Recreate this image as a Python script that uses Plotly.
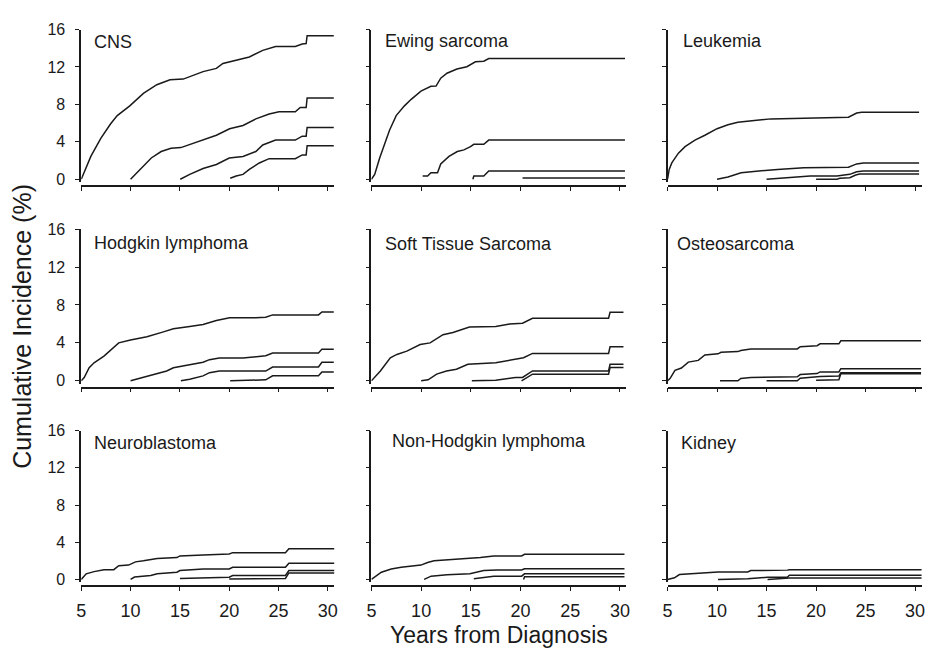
import plotly.graph_objects as go

# ---------------- data ----------------
panel_names = ["CNS", "Ewing sarcoma", "Leukemia",
               "Hodgkin lymphoma", "Soft Tissue Sarcoma", "Osteosarcoma",
               "Neuroblastoma", "Non-Hodgkin lymphoma", "Kidney"]
x_ticks = [5, 10, 15, 20, 25, 30]
y_ticks = [0, 4, 8, 12, 16]

# CNS
cns5_x = [5, 5.97, 6.98, 7.98, 8.65, 9.92, 11.3, 12.66, 14.0, 15.34, 17.35, 18.7, 19.36, 20.7, 22.04, 23.4, 24.7, 26.7, 27.4, 27.8, 27.9, 30.6]
cns5_y = [0, 2.44, 4.36, 5.93, 6.8, 7.84, 9.17, 10.1, 10.63, 10.7, 11.5, 11.85, 12.37, 12.72, 13.07, 13.77, 14.19, 14.19, 14.46, 14.5, 15.34, 15.34]
cns10_x = [10, 11.1, 12.1, 13.1, 14.1, 15.1, 16.77, 18.7, 20.04, 21.4, 22.7, 24.05, 25.05, 26.7, 27.2, 27.8, 27.9, 30.6]
cns10_y = [0, 1.22, 2.27, 2.96, 3.31, 3.38, 4.0, 4.7, 5.4, 5.75, 6.45, 6.97, 7.2, 7.2, 7.67, 7.67, 8.68, 8.68]
cns15_x = [15.04, 16.0, 17.35, 18.7, 20.0, 21.4, 22.7, 23.4, 24.7, 26.7, 27.4, 27.8, 27.9, 30.6]
cns15_y = [0, 0.52, 1.15, 1.57, 2.27, 2.44, 2.96, 3.66, 4.18, 4.18, 4.6, 4.6, 5.54, 5.54]
cns20_x = [20.1, 20.7, 21.4, 22.04, 23.05, 24.05, 26.7, 27.4, 27.8, 27.9, 30.6]
cns20_y = [0.1, 0.35, 0.52, 1.05, 1.74, 2.2, 2.2, 2.6, 2.6, 3.59, 3.59]

# Ewing sarcoma
ew5_x = [5, 5.33, 5.83, 6.3, 6.82, 7.49, 8.32, 9.0, 9.98, 10.98, 11.5, 11.97, 12.6, 13.6, 14.6, 15.46, 16.3, 16.8, 30.5]
ew5_y = [0, 0.52, 2.27, 3.66, 5.23, 6.8, 7.84, 8.54, 9.41, 9.93, 9.96, 10.8, 11.33, 11.78, 12.03, 12.55, 12.62, 12.9, 12.9]
ew10_x = [10.15, 10.65, 10.98, 11.65, 11.97, 12.8, 13.64, 14.3, 14.96, 15.3, 16.3, 16.8, 30.5]
ew10_y = [0.35, 0.35, 0.7, 0.7, 1.64, 2.44, 2.96, 3.14, 3.48, 3.73, 3.73, 4.18, 4.18]
ew15_x = [15.2, 15.3, 16.3, 16.8, 30.5]
ew15_y = [0, 0.35, 0.35, 0.87, 0.87]
ew20_x = [20.2, 30.5]
ew20_y = [0.12, 0.12]

# Leukemia
leu5_x = [5, 5.17, 5.43, 6.1, 6.77, 7.77, 8.77, 10.0, 11.1, 12.1, 13.77, 15.43, 18.77, 22.1, 23.27, 24.1, 24.6, 30.4]
leu5_y = [0, 1.05, 1.74, 2.79, 3.48, 4.18, 4.7, 5.4, 5.82, 6.1, 6.27, 6.45, 6.52, 6.59, 6.62, 7.08, 7.15, 7.15]
leu10_x = [10, 11.1, 12.43, 14.1, 16.1, 18.77, 22.1, 23.27, 24.1, 24.77, 30.4]
leu10_y = [0, 0.24, 0.7, 0.87, 1.05, 1.22, 1.22, 1.29, 1.64, 1.74, 1.74]
leu15_x = [15, 16.1, 17.8, 19.4, 22.1, 23.4, 24.1, 24.77, 30.4]
leu15_y = [0, 0.1, 0.24, 0.35, 0.35, 0.52, 0.8, 0.87, 0.87]
leu20_x = [20, 22.1, 22.4, 23.4, 24.0, 24.4, 30.4]
leu20_y = [0, 0, 0.1, 0.17, 0.45, 0.55, 0.55]

# Hodgkin lymphoma
hod5_x = [5, 5.3, 5.8, 6.3, 7.3, 7.98, 8.8, 9.99, 11.66, 13.33, 14.34, 16.0, 17.35, 18.7, 20.04, 22.7, 23.7, 24.4, 29.05, 29.4, 30.6]
hod5_y = [0, 0.35, 1.38, 1.9, 2.6, 3.27, 4.0, 4.3, 4.64, 5.16, 5.5, 5.74, 5.95, 6.37, 6.64, 6.64, 6.7, 6.95, 6.95, 7.26, 7.26]
hod10_x = [10, 10.65, 12.0, 13.66, 14.34, 16.0, 17.35, 18.0, 19.0, 21.4, 22.7, 23.7, 24.4, 29.05, 29.4, 30.6]
hod10_y = [0, 0.17, 0.52, 1.03, 1.38, 1.72, 1.96, 2.23, 2.4, 2.4, 2.58, 2.65, 2.92, 2.92, 3.34, 3.34]
hod15_x = [15.1, 16.0, 17.35, 18.0, 19.0, 23.7, 24.4, 29.05, 29.4, 30.6]
hod15_y = [0, 0.17, 0.52, 0.86, 1.03, 1.03, 1.45, 1.45, 1.96, 1.96]
hod20_x = [20.1, 23.7, 24.4, 29.05, 29.4, 30.6]
hod20_y = [0, 0.1, 0.52, 0.52, 0.93, 0.93]

# Soft Tissue Sarcoma
sts5_x = [5, 5.9, 6.9, 7.56, 8.56, 9.9, 10.9, 12.2, 13.2, 14.86, 17.5, 18.9, 20.2, 21.2, 28.85, 29.0, 30.35]
sts5_y = [0, 1.04, 2.43, 2.78, 3.13, 3.82, 4.0, 4.86, 5.1, 5.67, 5.73, 6.0, 6.08, 6.6, 6.6, 7.23, 7.23]
sts10_x = [10, 10.7, 11.56, 12.55, 13.55, 14.7, 17.5, 19.5, 20.3, 21.2, 28.85, 29.0, 30.35]
sts10_y = [0, 0.1, 0.7, 1.04, 1.22, 1.74, 1.9, 2.33, 2.43, 2.89, 2.89, 3.58, 3.58]
sts15_x = [15.1, 17.5, 19.5, 20.2, 21.2, 28.85, 29.0, 30.35]
sts15_y = [0, 0.07, 0.35, 0.35, 1.04, 1.04, 1.74, 1.74]
sts20_x = [20.1, 21.2, 28.85, 29.0, 30.35]
sts20_y = [0, 0.7, 0.7, 1.39, 1.39]

# Osteosarcoma
ost5_x = [5, 5.25, 5.75, 6.4, 7.1, 8.1, 8.77, 10.1, 10.4, 12.1, 12.4, 13.4, 18.1, 18.4, 20.1, 20.4, 22.3, 22.5, 30.6]
ost5_y = [0, 0.24, 1.1, 1.35, 1.97, 2.15, 2.73, 2.84, 3.0, 3.08, 3.2, 3.36, 3.36, 3.6, 3.7, 3.9, 3.9, 4.22, 4.22]
ost10_x = [10.3, 12.1, 12.4, 13.4, 18.1, 18.4, 20.1, 20.4, 22.3, 22.5, 30.6]
ost10_y = [0, 0, 0.24, 0.35, 0.42, 0.66, 0.76, 0.94, 0.94, 1.28, 1.28]
ost15_x = [15.0, 18.1, 18.4, 20.4, 22.3, 22.5, 30.6]
ost15_y = [0, 0, 0.28, 0.45, 0.5, 0.85, 0.85]
ost20_x = [20.0, 22.3, 22.5, 30.6]
ost20_y = [0.05, 0.1, 0.75, 0.75]

# Neuroblastoma
neu5_x = [5, 5.5, 6.3, 7.3, 8.3, 8.8, 9.8, 10.5, 11.3, 12.7, 14.7, 15.0, 17.35, 20.0, 20.35, 25.7, 26.05, 30.7]
neu5_y = [0, 0.6, 0.84, 1.05, 1.05, 1.47, 1.54, 1.89, 2.0, 2.25, 2.35, 2.53, 2.63, 2.74, 2.88, 2.88, 3.3, 3.3]
neu10_x = [10, 10.4, 12.05, 12.7, 14.7, 15.0, 17.35, 20.0, 20.35, 25.7, 26.05, 30.7]
neu10_y = [0, 0.25, 0.42, 0.6, 0.77, 0.95, 1.12, 1.12, 1.3, 1.3, 1.75, 1.75]
neu15_x = [15, 20.0, 20.35, 25.7, 26.05, 30.7]
neu15_y = [0.1, 0.24, 0.42, 0.42, 0.95, 0.95]
neu20_x = [20, 25.7, 26.05, 30.7]
neu20_y = [0.05, 0.1, 0.7, 0.7]

# Non-Hodgkin lymphoma
nhl5_x = [5, 5.5, 6.0, 6.99, 7.99, 9.98, 10.65, 11.3, 12.6, 14.6, 15.96, 17.3, 20.1, 20.4, 30.45]
nhl5_y = [0, 0.42, 0.77, 1.12, 1.3, 1.54, 1.82, 2.0, 2.1, 2.18, 2.35, 2.53, 2.53, 2.7, 2.7]
nhl10_x = [10.3, 11.0, 12.6, 14.9, 16.3, 17.6, 20.1, 20.4, 30.45]
nhl10_y = [0, 0.35, 0.49, 0.6, 0.95, 1.02, 1.02, 1.15, 1.15]
nhl15_x = [15.3, 16.0, 17.3, 20.1, 20.4, 30.45]
nhl15_y = [0.07, 0.14, 0.35, 0.35, 0.6, 0.6]
nhl20_x = [20.3, 20.4, 30.45]
nhl20_y = [0, 0.28, 0.28]

# Kidney
kid5_x = [5, 5.7, 6.2, 8.7, 10.1, 13.1, 13.4, 17.1, 17.3, 30.7]
kid5_y = [0, 0.17, 0.52, 0.7, 0.8, 0.8, 0.95, 1.0, 1.05, 1.05]
kid10_x = [10.1, 13.1, 15.1, 17.1, 17.3, 30.7]
kid10_y = [0, 0.07, 0.24, 0.24, 0.46, 0.46]
kid15_x = [15.1, 17.1, 17.3, 30.7]
kid15_y = [0, 0.07, 0.15, 0.15]

panel_curves = [
    [(cns5_x, cns5_y), (cns10_x, cns10_y), (cns15_x, cns15_y), (cns20_x, cns20_y)],
    [(ew5_x, ew5_y), (ew10_x, ew10_y), (ew15_x, ew15_y), (ew20_x, ew20_y)],
    [(leu5_x, leu5_y), (leu10_x, leu10_y), (leu15_x, leu15_y), (leu20_x, leu20_y)],
    [(hod5_x, hod5_y), (hod10_x, hod10_y), (hod15_x, hod15_y), (hod20_x, hod20_y)],
    [(sts5_x, sts5_y), (sts10_x, sts10_y), (sts15_x, sts15_y), (sts20_x, sts20_y)],
    [(ost5_x, ost5_y), (ost10_x, ost10_y), (ost15_x, ost15_y), (ost20_x, ost20_y)],
    [(neu5_x, neu5_y), (neu10_x, neu10_y), (neu15_x, neu15_y), (neu20_x, neu20_y)],
    [(nhl5_x, nhl5_y), (nhl10_x, nhl10_y), (nhl15_x, nhl15_y), (nhl20_x, nhl20_y)],
    [(kid5_x, kid5_y), (kid10_x, kid10_y), (kid15_x, kid15_y)],
]

# ---------------- layout geometry (pixels) ----------------
W, H = 931, 650
FONT = "Arial, 'Liberation Sans', sans-serif"
INK = "#1a1a1a"
col_left = [77, 370, 669]
col_scale = [9.96, 10.04, 10.0]
row_top = [22, 226, 432]
row_zero = [175, 381, 584]
row_axis = [182, 388, 591]
XMIN, XMAX = 5, 30.65
YMIN, YMAX = -0.3, 16
label_pos = [(88, 35), (382, 34), (683, 34),
             (88, 240), (382, 241), (677, 241),
             (88, 445), (389, 443), (681, 445)]

fig = go.Figure()
annotations = []
for i, curves in enumerate(panel_curves):
    r, c = divmod(i, 3)
    k = i + 1
    xn = "x" if k == 1 else f"x{k}"
    yn = "y" if k == 1 else f"y{k}"
    for cx, cy in curves:
        fig.add_trace(go.Scatter(x=cx, y=cy, mode="lines", xaxis=xn, yaxis=yn,
                                 line=dict(color=INK, width=1.5),
                                 showlegend=False, hoverinfo="skip"))
    x0 = col_left[c]
    x1 = x0 + (XMAX - XMIN) * col_scale[c]
    ys = (row_zero[r] - row_top[r]) / 16.0
    yb = row_zero[r] - YMIN * ys
    xkey = "xaxis" if k == 1 else f"xaxis{k}"
    ykey = "yaxis" if k == 1 else f"yaxis{k}"
    fig.update_layout(**{
        xkey: dict(domain=[x0 / W, x1 / W], range=[XMIN, XMAX], anchor="free",
                   position=1 - row_axis[r] / H, tickvals=x_ticks,
                   ticks="outside", ticklen=4, tickwidth=1.2, tickcolor=INK,
                   showline=True, linewidth=1.6, linecolor=INK,
                   showgrid=False, zeroline=False, showticklabels=(r == 2),
                   tickfont=dict(family=FONT, size=18, color=INK),
                   ticklabelstandoff=4),
        ykey: dict(domain=[1 - yb / H, 1 - row_top[r] / H], range=[YMIN, YMAX],
                   anchor=xn, tickvals=y_ticks, ticks="outside", ticklen=4,
                   tickwidth=1.2, tickcolor=INK, showline=True, linewidth=1.6,
                   linecolor=INK, showgrid=False, zeroline=False,
                   showticklabels=(c == 0),
                   tickfont=dict(family=FONT, size=16, color=INK),
                   ticklabelstandoff=7),
    })
    lx, ly = label_pos[i]
    annotations.append(dict(text=panel_names[i], x=lx / W, y=1 - ly / H,
                            xref="paper", yref="paper", xanchor="left",
                            yanchor="middle", showarrow=False,
                            font=dict(family=FONT, size=18, color=INK)))

annotations.append(dict(text="Cumulative Incidence (%)", x=17 / W, y=1 - 325 / H,
                        xref="paper", yref="paper", xanchor="center",
                        yanchor="middle", textangle=-90, showarrow=False,
                        font=dict(family=FONT, size=25, color=INK)))
annotations.append(dict(text="Years from Diagnosis", x=499 / W, y=1 - 641 / H,
                        xref="paper", yref="paper", xanchor="center",
                        yanchor="middle", showarrow=False,
                        font=dict(family=FONT, size=23, color=INK)))

fig.update_layout(width=W, height=H, margin=dict(l=0, r=0, t=0, b=0),
                  paper_bgcolor="white", plot_bgcolor="white",
                  annotations=annotations, showlegend=False)
fig.write_html("out.html")
